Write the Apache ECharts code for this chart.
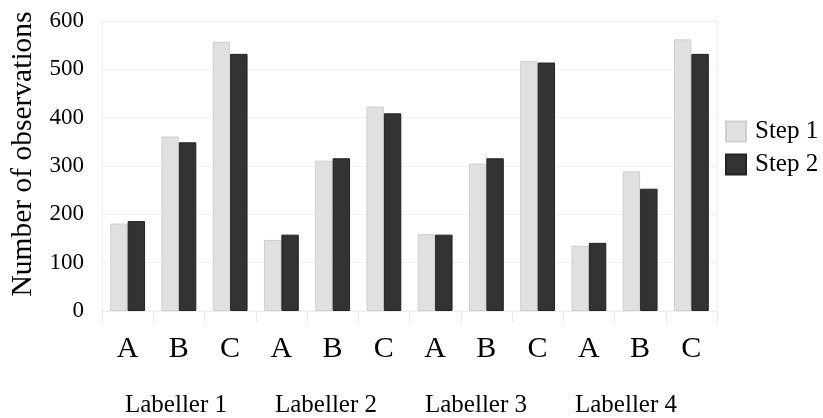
<!DOCTYPE html>
<html>
<head>
<meta charset="utf-8">
<script src="https://cdn.jsdelivr.net/npm/echarts@6/dist/echarts.min.js"></script>
<style>html,body{margin:0;padding:0;background:#fff;}#c{width:823px;height:418px;}</style>
</head>
<body>
<div id="c"></div>
<script>
const categories = ['A','B','C','A','B','C','A','B','C','A','B','C'];
const groups = ['Labeller 1','Labeller 2','Labeller 3','Labeller 4'];
const step1 = [181, 361, 557, 147, 311, 423, 159, 305, 517, 135, 289, 562];
const step2 = [186, 349, 532, 158, 316, 409, 158, 316, 514, 141, 253, 532];
const seriesNames = ['Step 1','Step 2'];
const yTicks = {min: 0, max: 600, interval: 100};

const FONT = '"Liberation Serif", "Times New Roman", serif';
const chart = echarts.init(document.getElementById('c'));
chart.setOption({
  animation: false,
  backgroundColor: '#fff',
  textStyle: {fontFamily: FONT, color: '#000'},
  legend: {
    orient: 'vertical', left: 725, top: 119, padding: 0,
    icon: 'rect',
    itemWidth: 20, itemHeight: 20, itemGap: 8,
    textStyle: {fontFamily: FONT, fontSize: 25, color: '#000', padding: [0, 0, 0, 4]},
    data: seriesNames
  },
  grid: [
    {left: 101, right: 106, top: 21, bottom: 107, show: true, borderColor: '#eeeeee', borderWidth: 1},
    {left: 101, width: 600, top: 21, bottom: 107, show: false}
  ],
  xAxis: [
    {
      type: 'category', data: categories, gridIndex: 0,
      axisLine: {show: true, lineStyle: {color: '#eeeeee'}},
      axisTick: {show: true, length: 11, interval: 0, lineStyle: {color: '#e8e8e8'}},
      axisLabel: {fontFamily: FONT, fontSize: 30, color: '#000', margin: 23, interval: 0}
    },
    {
      type: 'category', data: groups, gridIndex: 1,
      axisLine: {show: false}, axisTick: {show: false},
      axisLabel: {fontFamily: FONT, fontSize: 25, color: '#000', margin: 85, interval: 0}
    }
  ],
  yAxis: [
    {
      type: 'value', gridIndex: 0, min: yTicks.min, max: yTicks.max, interval: yTicks.interval,
      name: 'Number of observations', nameLocation: 'middle', nameGap: 64,
      nameTextStyle: {fontFamily: FONT, fontSize: 29.5, color: '#000', padding: [0, 0, 0, 24]},
      axisLine: {show: false}, axisTick: {show: false},
      axisLabel: {fontFamily: FONT, fontSize: 23, color: '#000', margin: 18},
      splitLine: {show: true, lineStyle: {color: '#f2f2f2'}}
    },
    {type: 'value', gridIndex: 1, show: false, min: 0, max: 600}
  ],
  series: [
    {
      name: seriesNames[0], type: 'bar', data: step1, xAxisIndex: 0, yAxisIndex: 0,
      barGap: '0%', barCategoryGap: '32%',
      itemStyle: {color: '#e0e0e0', borderColor: '#cfcfcf', borderWidth: 1}
    },
    {
      name: seriesNames[1], type: 'bar', data: step2, xAxisIndex: 0, yAxisIndex: 0,
      barGap: '0%', barCategoryGap: '32%',
      itemStyle: {color: '#333333', borderColor: '#222222', borderWidth: 1}
    }
  ]
});
</script>
</body>
</html>
